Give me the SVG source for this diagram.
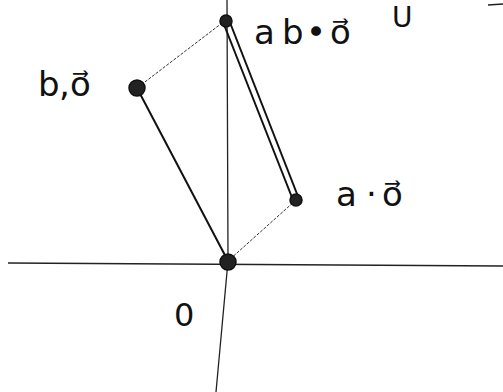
<svg xmlns="http://www.w3.org/2000/svg" width="503" height="392" viewBox="0 0 503 392">
<style>
.lbl{font-family:"DejaVu Sans",sans-serif;font-size:34px;fill:#111}
.axis{stroke:#222;stroke-width:1.3;fill:none}
.solid{stroke:#111;stroke-width:2;fill:none}
.thin{stroke:#333;stroke-width:1;fill:none;stroke-dasharray:3 1.5}
.dot{fill:#222;stroke:#111;stroke-width:1.5}
</style>
<rect width="503" height="392" fill="#fff"/>
<g id="connectors">
<path class="axis" d="M8 263 L503 266"/>
<path class="axis" d="M227 0 L228 261 L216 392"/>
<path class="thin" d="M226 20 L137 88"/>
<path class="solid" d="M137 88 L228 261"/>
<path class="solid" d="M223 22 L293 200"/>
<path class="solid" d="M229 20 L299 199"/>
<path class="thin" d="M296 200 L228 261"/>
</g>
<g id="node-ab"><circle class="dot" cx="226" cy="21" r="6"/><text class="lbl" y="44"><tspan x="254">a</tspan><tspan x="282">b</tspan><tspan x="306">•</tspan><tspan x="330">o⃗</tspan></text></g>
<g id="node-b"><circle class="dot" cx="137" cy="88" r="8"/><text class="lbl" y="96"><tspan x="38">b</tspan><tspan x="59">,</tspan><tspan x="70">o⃗</tspan></text></g>
<g id="node-a"><circle class="dot" cx="296" cy="200" r="6"/><text class="lbl" y="206"><tspan x="336">a</tspan><tspan x="366">·</tspan><tspan x="382">o⃗</tspan></text></g>
<g id="node-o"><circle class="dot" cx="228" cy="262" r="8"/><text class="lbl" x="174" y="326" style="font-size:32px">0</text></g>
<g id="fragments"><text class="lbl" x="392" y="27" style="font-size:28px">U</text><path class="axis" d="M488 5 L503 4"/></g>
</svg>
